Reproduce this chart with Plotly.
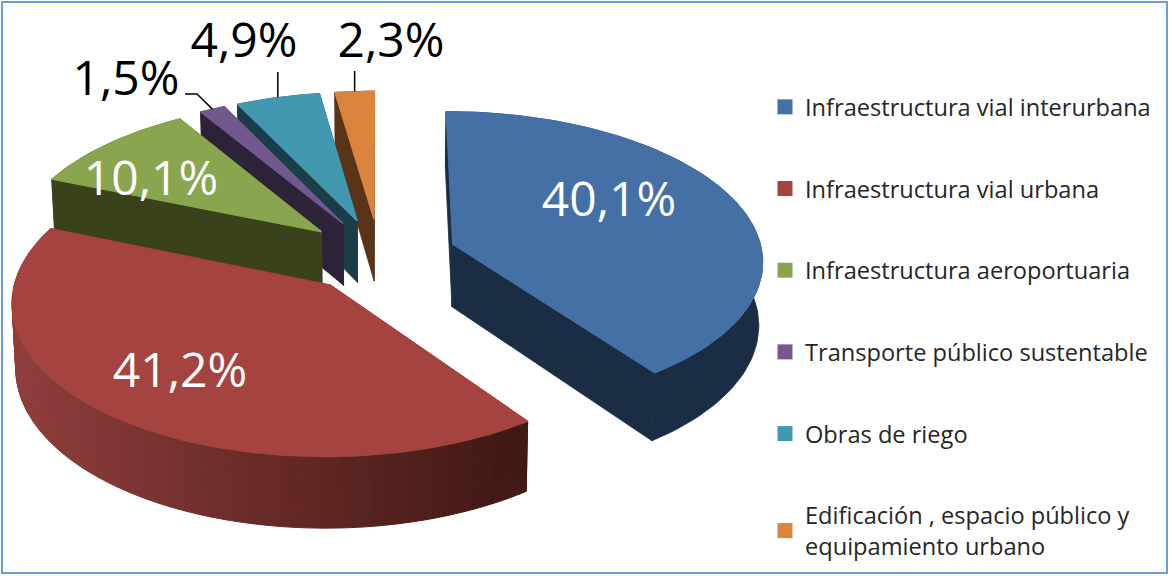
import math
import plotly.graph_objects as go

categories = ["Infraestructura vial interurbana", "Infraestructura vial urbana",
              "Infraestructura aeroportuaria", "Transporte público sustentable",
              "Obras de riego", "Edificación , espacio público y<br>equipamiento urbano"]
values = [40.1, 41.2, 10.1, 1.5, 4.9, 2.3]
labels = ["40,1%", "41,2%", "10,1%", "1,5%", "4,9%", "2,3%"]
top_colors = ["#4470A5", "#A54341", "#89A54E", "#71588F", "#4198AF", "#DB843D"]
side_colors = ["#1B2D44", "#4A1B18", "#3A421C", "#2D2339", "#1A3D47", "#5A3418"]
label_colors = ["white", "white", "white", "black", "black", "black"]
label_pos = [(609, 204), (180, 375), (151, 183), (126, 83), (244, 45), (391, 45)]
leader_from = [None, None, None, [(185, 94), (197, 94)], [(None, 72)], [(None, 71)]]

FONT = "Open Sans"
CX, CY, A, B, P, E = 379.5, 255.5, 310, 148, 0.10, 0.25
DEPTH, XSHRINK = 63, 0.99


def project(t_deg, m_deg, rim=1.0, low=False):
    t, m = math.radians(t_deg), math.radians(m_deg)
    u = E * math.sin(m) + rim * math.sin(t)
    v = E * math.cos(m) + rim * math.cos(t)
    d = 1 + P * v
    x, y = CX + A * u / d, CY - B * v / d
    if low:
        x = CX + (x - CX) * XSHRINK
        y += DEPTH / d
    return x, y


def arc(t0, t1, m, low=False):
    n = max(2, int(abs(t1 - t0) / 1.5) + 1)
    return [project(t0 + (t1 - t0) * i / n, m, low=low) for i in range(n + 1)]


def poly(points, color, width=0.8):
    xs = [p[0] for p in points] + [points[0][0]]
    ys = [p[1] for p in points] + [points[0][1]]
    return go.Scatter(x=xs, y=ys, mode="lines", fill="toself", fillcolor=color,
                      line=dict(color=color, width=width), hoverinfo="skip", showlegend=False)


def mix(c0, c1, f):
    a = [int(c0[i:i + 2], 16) for i in (1, 3, 5)]
    b = [int(c1[i:i + 2], 16) for i in (1, 3, 5)]
    return "rgb(%d,%d,%d)" % tuple(round(x + (y - x) * f) for x, y in zip(a, b))


total = sum(values)
start = 0.0
slices = []
for i, val in enumerate(values):
    sweep = 360 * val / total
    slices.append((i, start, start + sweep, start + sweep / 2))
    start += sweep

fig = go.Figure()
for i, t0, t1, m in reversed(slices):
    apex_hi, apex_lo = project(0, m, 0), project(0, m, 0, True)
    for t in (t0, t1):
        fig.add_trace(poly([apex_hi, project(t, m), project(t, m, low=True), apex_lo], side_colors[i]))
    hi, lo = arc(t0, t1, m), arc(t0, t1, m, True)
    if i == 1:
        for k in range(len(hi) - 1):
            f = min(1, max(0, (hi[k][0] - 20) / 480))
            col = mix("#8F3D3A", "#431916", f)
            fig.add_trace(poly([hi[k], hi[k + 1], lo[k + 1], lo[k]], col, 1))
    else:
        fig.add_trace(poly(hi + lo[::-1], side_colors[i]))
    fig.add_trace(poly([apex_hi] + hi, top_colors[i], 1.2))

for (i, t0, t1, m), frm in zip(slices, leader_from):
    if frm:
        end = project(m, m)
        pts = [(end[0] if p[0] is None else p[0], p[1]) for p in frm] + [end]
        fig.add_trace(go.Scatter(x=[p[0] for p in pts], y=[p[1] for p in pts], mode="lines",
                                 line=dict(color="black", width=1.5), hoverinfo="skip", showlegend=False))

fig.add_trace(go.Scatter(x=[p[0] for p in label_pos], y=[p[1] for p in label_pos], mode="text",
                         text=labels, textposition="middle center",
                         textfont=dict(family=FONT, size=48, color=label_colors),
                         hoverinfo="skip", showlegend=False, cliponaxis=False))

for name, col in zip(categories, top_colors):
    fig.add_trace(go.Scatter(x=[None], y=[None], mode="markers", name=name, legendgroup=name,
                             marker=dict(symbol="square", size=15, color=col)))

fig.update_layout(
    width=1172, height=576, autosize=False, margin=dict(l=0, r=0, t=0, b=0, autoexpand=False),
    paper_bgcolor="white", plot_bgcolor="white",
    xaxis=dict(range=[0, 1172], visible=False, fixedrange=True),
    yaxis=dict(range=[576, 0], visible=False, fixedrange=True),
    legend=dict(x=765 / 1172, y=1 - 85 / 576, xanchor="left", yanchor="top",
                font=dict(family=FONT, size=23.6, color="#262626"), maxheight=560,
                tracegroupgap=48, bgcolor="rgba(0,0,0,0)", traceorder="grouped"),
    shapes=[dict(type="rect", xref="x", yref="y", x0=2, y0=2, x1=1167, y1=573,
                 line=dict(color="#6A9BDB", width=2), layer="above")],
)
fig.write_html("out.html", config=dict(displayModeBar=False),
               post_script="document.body.style.margin='0';document.body.style.overflow='hidden';")
